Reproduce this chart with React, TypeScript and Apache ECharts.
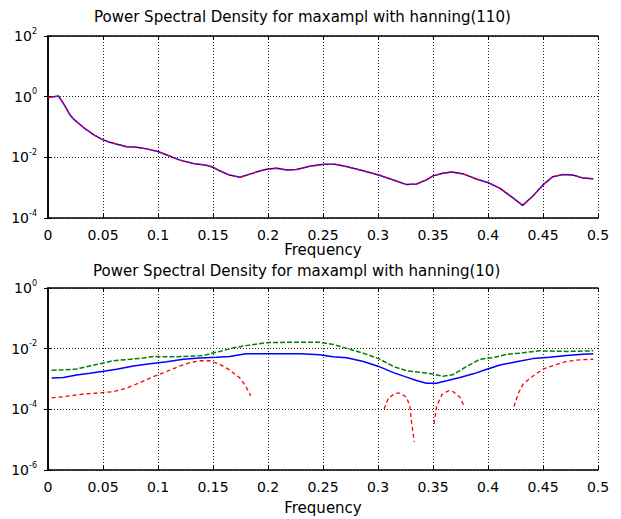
import React, { useEffect, useRef } from "react";
import * as echarts from "echarts";

// ---- Top panel: hanning(110) ----
const topFreq = [0, 0.0094, 0.014, 0.02, 0.0236, 0.032, 0.041, 0.049, 0.056, 0.0715, 0.0806, 0.0897, 0.1, 0.108, 0.12, 0.132, 0.144, 0.15, 0.156, 0.165, 0.1745, 0.1836, 0.193, 0.2, 0.208, 0.217, 0.226, 0.238, 0.251, 0.261, 0.272, 0.284, 0.3006, 0.314, 0.326, 0.335, 0.344, 0.35, 0.359, 0.367, 0.378, 0.39, 0.4003, 0.411, 0.423, 0.4315, 0.441, 0.45, 0.459, 0.468, 0.477, 0.486, 0.4957];
const topPsd = [0.93, 1.05, 0.6, 0.25, 0.178, 0.098, 0.0575, 0.039, 0.0316, 0.0224, 0.0214, 0.019, 0.0155, 0.012, 0.0081, 0.0063, 0.0055, 0.0047, 0.0036, 0.0026, 0.0022, 0.0028, 0.0036, 0.0041, 0.0044, 0.0038, 0.004, 0.0051, 0.0059, 0.0059, 0.0049, 0.0038, 0.0026, 0.0018, 0.00126, 0.00132, 0.0018, 0.00245, 0.003, 0.0033, 0.0028, 0.0019, 0.00145, 0.00095, 0.00045, 0.00026, 0.00054, 0.00123, 0.0023, 0.0027, 0.0026, 0.0021, 0.00195];

// ---- Bottom panel: hanning(10) ----
const greenFreq = [0.0033, 0.014, 0.026, 0.038, 0.049, 0.0594, 0.0745, 0.0867, 0.0958, 0.108, 0.123, 0.138, 0.144, 0.156, 0.168, 0.18, 0.1988, 0.217, 0.247, 0.2594, 0.2715, 0.2867, 0.3006, 0.314, 0.326, 0.338, 0.35, 0.359, 0.368, 0.3806, 0.3927, 0.4048, 0.417, 0.429, 0.447, 0.4715, 0.4957];
const greenPsd = [0.00195, 0.002, 0.00214, 0.0027, 0.0033, 0.004, 0.00447, 0.0049, 0.0055, 0.0054, 0.0055, 0.0058, 0.0063, 0.0081, 0.0105, 0.0126, 0.0158, 0.0162, 0.0162, 0.0138, 0.0102, 0.0071, 0.0047, 0.0026, 0.00186, 0.00166, 0.00145, 0.00123, 0.00138, 0.0026, 0.00447, 0.0051, 0.0065, 0.0071, 0.0085, 0.0081, 0.0085];

const blueFreq = [0.0033, 0.014, 0.026, 0.038, 0.049, 0.0624, 0.0776, 0.0927, 0.108, 0.123, 0.138, 0.153, 0.165, 0.18, 0.199, 0.229, 0.247, 0.259, 0.2715, 0.2867, 0.3006, 0.314, 0.326, 0.335, 0.344, 0.353, 0.3624, 0.3745, 0.3867, 0.399, 0.411, 0.4258, 0.441, 0.456, 0.4715, 0.4864, 0.4957];
const bluePsd = [0.00107, 0.00112, 0.00135, 0.00155, 0.00178, 0.0021, 0.0027, 0.0032, 0.0037, 0.00447, 0.0049, 0.0052, 0.0055, 0.0068, 0.0068, 0.0068, 0.0063, 0.0054, 0.005, 0.0038, 0.0026, 0.00162, 0.00115, 0.00089, 0.00072, 0.00072, 0.00087, 0.00112, 0.00148, 0.0021, 0.0029, 0.0037, 0.0047, 0.0052, 0.006, 0.0065, 0.0068];

const redFreq1 = [0.0033, 0.014, 0.032, 0.047, 0.0594, 0.0715, 0.0836, 0.0958, 0.108, 0.12, 0.129, 0.138, 0.147, 0.156, 0.165, 0.1745, 0.18, 0.1843];
const redPsd1 = [0.00024, 0.00026, 0.00032, 0.00035, 0.00038, 0.0005, 0.00076, 0.0012, 0.00178, 0.0027, 0.0035, 0.004, 0.004, 0.0031, 0.002, 0.00107, 0.00056, 0.00028];
const redFreq2 = [0.3055, 0.3094, 0.3155, 0.32, 0.326, 0.329, 0.3306, 0.333];
const redPsd2 = [0.000102, 0.00023, 0.00034, 0.00034, 0.00025, 0.000123, 0.0000347, 0.0000085];
const redFreq3 = [0.3509, 0.3533, 0.358, 0.364, 0.368, 0.3745, 0.3785];
const redPsd3 = [0.000033, 0.000123, 0.0003, 0.00041, 0.00039, 0.00025, 0.000123];
const redFreq4 = [0.4236, 0.4276, 0.432, 0.441, 0.45, 0.462, 0.4715, 0.4836, 0.4957];
const redPsd4 = [0.000123, 0.00034, 0.00069, 0.00126, 0.0021, 0.003, 0.0038, 0.0043, 0.00447];

const titles = [
  "Power Spectral Density for maxampl with hanning(110)",
  "Power Spectral Density for maxampl with hanning(10)",
];
const xName = "Frequency";

const FONT = "DejaVu Sans";

const zip = (xs: number[], ys: number[]) => xs.map((x, i) => [x, ys[i]]);

const fmtX = (v: number) => String(Math.round(v * 100) / 100);
const fmtY = (v: number) => `{b|10}{s|${Math.round(Math.log10(v))}}`;

function makeAxes(gridIndex: number, yMin: number, yMax: number, nameGap: number) {
  const frame = { show: true, lineStyle: { color: "#000", width: 1.5 } };
  const tick = { show: true, inside: true, length: 4, lineStyle: { color: "#000", width: 1 } };
  const split = { show: true, lineStyle: { color: "#222", type: [1, 2], width: 1 } };
  const xAxes = [
    {
      type: "value",
      gridIndex,
      min: 0,
      max: 0.5,
      interval: 0.05,
      position: "bottom",
      name: xName,
      nameLocation: "middle",
      nameGap,
      nameTextStyle: { fontFamily: FONT, fontSize: 15, color: "#000" },
      axisLine: frame,
      axisTick: tick,
      splitLine: split,
      axisLabel: { fontFamily: FONT, fontSize: 14, color: "#000", margin: 10, formatter: fmtX },
    },
    {
      type: "value",
      gridIndex,
      min: 0,
      max: 0.5,
      interval: 0.05,
      position: "top",
      axisLine: frame,
      axisTick: tick,
      splitLine: { show: false },
      axisLabel: { show: false },
    },
  ];
  const rich = {
    b: { fontFamily: FONT, fontSize: 14, color: "#000" },
    s: { fontFamily: FONT, fontSize: 8, color: "#000", padding: [0, 0, 10, 0] },
  };
  const yAxes = [
    {
      type: "log",
      logBase: 10,
      gridIndex,
      min: yMin,
      max: yMax,
      interval: 2,
      position: "left",
      axisLine: frame,
      axisTick: tick,
      splitLine: split,
      minorTick: { show: false },
      axisLabel: { margin: 11, formatter: fmtY, rich },
    },
    {
      type: "log",
      logBase: 10,
      gridIndex,
      min: yMin,
      max: yMax,
      interval: 2,
      position: "right",
      axisLine: frame,
      axisTick: tick,
      splitLine: { show: false },
      axisLabel: { show: false },
    },
  ];
  return { xAxes, yAxes };
}

export default function App() {
  const ref = useRef<HTMLDivElement>(null);
  useEffect(() => {
    if (!ref.current) return;
    const chart = echarts.init(ref.current, undefined, { renderer: "svg" });
    const a = makeAxes(0, 1e-4, 1e2, 21);
    const b = makeAxes(1, 1e-6, 1e0, 30);
    const lineBase = { type: "line", showSymbol: false, symbol: "none", silent: true };
    const redStyle = { color: "#ff0000", width: 1.3, type: [4, 3] };
    const option: any = {
      animation: false,
      backgroundColor: "#fff",
      grid: [
        { left: 48, top: 36, width: 550, height: 182 },
        { left: 48, top: 288, width: 550, height: 182 },
      ],
      xAxis: [...a.xAxes, ...b.xAxes],
      yAxis: [...a.yAxes, ...b.yAxes],
      graphic: [
        {
          type: "text",
          left: 94,
          top: 9,
          style: { text: titles[0], fontFamily: FONT, fontSize: 15, fill: "#000" },
        },
        {
          type: "text",
          left: 93,
          top: 263,
          style: { text: titles[1], fontFamily: FONT, fontSize: 15, fill: "#000" },
        },
      ],
      series: [
        { ...lineBase, xAxisIndex: 0, yAxisIndex: 0, data: zip(topFreq, topPsd), lineStyle: { color: "#0000ff", width: 1.5 }, itemStyle: { color: "#0000ff" } },
        { ...lineBase, xAxisIndex: 0, yAxisIndex: 0, data: zip(topFreq, topPsd), lineStyle: redStyle, itemStyle: { color: "#ff0000" } },
        { ...lineBase, xAxisIndex: 2, yAxisIndex: 2, data: zip(greenFreq, greenPsd), lineStyle: { color: "#008000", width: 1.5, type: [5, 2] }, itemStyle: { color: "#008000" } },
        { ...lineBase, xAxisIndex: 2, yAxisIndex: 2, data: zip(blueFreq, bluePsd), lineStyle: { color: "#0000ff", width: 1.5 }, itemStyle: { color: "#0000ff" } },
        { ...lineBase, xAxisIndex: 2, yAxisIndex: 2, data: zip(redFreq1, redPsd1), lineStyle: redStyle, itemStyle: { color: "#ff0000" } },
        { ...lineBase, xAxisIndex: 2, yAxisIndex: 2, data: zip(redFreq2, redPsd2), lineStyle: redStyle, itemStyle: { color: "#ff0000" } },
        { ...lineBase, xAxisIndex: 2, yAxisIndex: 2, data: zip(redFreq3, redPsd3), lineStyle: redStyle, itemStyle: { color: "#ff0000" } },
        { ...lineBase, xAxisIndex: 2, yAxisIndex: 2, data: zip(redFreq4, redPsd4), lineStyle: redStyle, itemStyle: { color: "#ff0000" } },
      ],
    };
    chart.setOption(option);
    return () => chart.dispose();
  }, []);
  return (
    <div
      ref={ref}
      style={{ position: "fixed", left: 0, top: 0, width: 621, height: 519, background: "#fff" }}
    />
  );
}
